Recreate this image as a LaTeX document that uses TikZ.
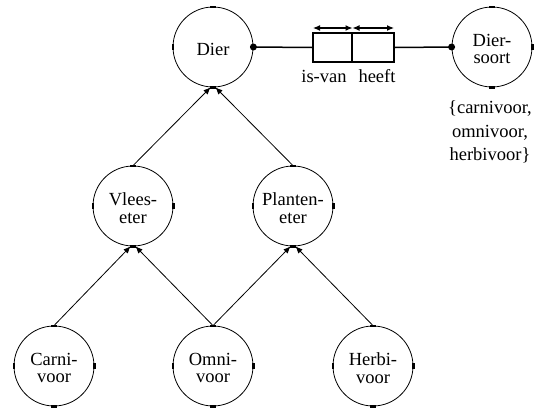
\documentclass[tikz,border=0pt]{standalone}
\usepackage{fontspec}
\setmainfont{Liberation Serif}
\usetikzlibrary{arrows.meta,calc}
\tikzset{
  ent/.style={circle, draw, line width=0.8pt, minimum size=80pt, inner sep=0pt},
  etext/.style={align=center, inner sep=0pt, yshift=-2pt,
    font=\fontsize{18.5}{17.5}\selectfont},
  relbox/.style={draw, line width=2pt, minimum height=29pt, inner sep=0pt},
  tick/.style={line width=2.2pt},
  conn/.style={line width=0.8pt, -{Latex[length=7pt,width=6pt]}},
  relline/.style={line width=1.5pt},
  dirarr/.style={line width=1.2pt, {Latex[length=7pt,width=6pt]}-{Latex[length=7pt,width=6pt]}},
  lbl/.style={font=\fontsize{18.5}{18}\selectfont, inner sep=0pt},
  dot/.style={circle, fill, inner sep=0pt, minimum size=7pt}
}
\begin{document}
\begin{tikzpicture}[x=1pt,y=-1pt]
\useasboundingbox (0,0) rectangle (534,407);
\node[ent, label={[etext]center:Dier}] (dier) at (213,47) {};
\node[ent, label={[etext]center:Dier-\\soort}] (soort) at (492,47) {};
\node[ent, label={[etext]center:Vlees-\\eter}] (vlees) at (133,206) {};
\node[ent, label={[etext]center:Planten-\\eter}] (plant) at (293,206) {};
\node[ent, label={[etext]center:Carni-\\voor}] (carni) at (54,366) {};
\node[ent, label={[etext]center:Omni-\\voor}] (omni) at (213,366) {};
\node[ent, label={[etext]center:Herbi-\\voor}] (herbi) at (373,366) {};
% ticks
\foreach \n in {vlees,plant,carni,omni,herbi}{
  \draw[tick] ($(\n.north)+(-3,0)$) -- ++(6,0);
  \draw[tick] ($(\n.south)+(-3,0)$) -- ++(6,0);
  \draw[tick] ($(\n.east)+(0,-3)$) -- ++(0,6);
  \draw[tick] ($(\n.west)+(0,-3)$) -- ++(0,6);
}
\draw[tick] ($(dier.north)+(-3,0)$) -- ++(6,0);
\draw[tick] ($(dier.south)+(-3,0)$) -- ++(6,0);
\draw[tick] ($(dier.west)+(0,-3)$) -- ++(0,6);
\draw[tick] ($(soort.north)+(-3,0)$) -- ++(6,0);
\draw[tick] ($(soort.south)+(-3,0)$) -- ++(6,0);
\draw[tick] ($(soort.east)+(0,-3)$) -- ++(0,6);
% relation
\node[relbox, minimum width=39pt] (isvan) at (332.5,47.5) {};
\node[relbox, minimum width=42pt] (heeft) at (373,47.5) {};
\draw[relline] (dier.east) -- (isvan.west);
\draw[relline] (heeft.east) -- (soort.west);
\node[dot] (d1) at (dier.east) {};
\node[dot] (d2) at (soort.west) {};
\coordinate (a1) at (313,28);
\coordinate (a2) at (352.5,28);
\coordinate (a3) at (394,28);
\draw[dirarr] (a1) -- (a2);
\draw[dirarr] (a2) -- (a3);
\node[lbl, anchor=base] (l1) at (324,82) {is-van};
\node[lbl, anchor=base] (l2) at (377,82) {heeft};
\node[lbl, align=center, font=\fontsize{18.5}{23.8}\selectfont] (set) at (490,132) {\{carnivoor,\\omnivoor,\\herbivoor\}};
% hierarchy
\draw[conn] (vlees.north) -- ($(dier.south)+(-2.5,0)$);
\draw[conn] (plant.north) -- ($(dier.south)+(2.5,0)$);
\draw[conn] (carni.north) -- ($(vlees.south)+(-2.5,0)$);
\draw[conn] (omni.north) -- ($(vlees.south)+(2.5,0)$);
\draw[conn] (omni.north) -- ($(plant.south)+(-2.5,0)$);
\draw[conn] (herbi.north) -- ($(plant.south)+(2.5,0)$);
\end{tikzpicture}
\end{document}
